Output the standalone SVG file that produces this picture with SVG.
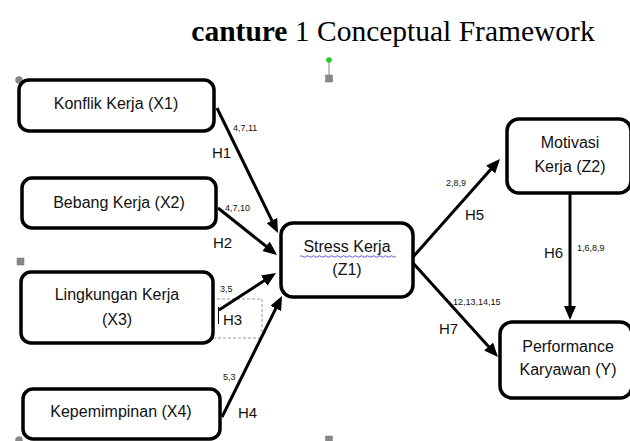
<svg xmlns="http://www.w3.org/2000/svg" width="630" height="441" viewBox="0 0 630 441">
<defs>
<style>
.box{fill:#fff;stroke:#000;stroke-width:3.5}
.lbl{font-family:"Liberation Sans",Arial,sans-serif;font-size:16px;fill:#111;text-anchor:middle}
.h{font-family:"Liberation Sans",Arial,sans-serif;font-size:15px;fill:#111}
.n{font-family:"Liberation Sans",Arial,sans-serif;font-size:9px;fill:#111}
.con{stroke:#000;stroke-width:3;fill:none}
.hdl{fill:#888;stroke:#777;stroke-width:0.5}
</style>
<marker id="ah" markerUnits="userSpaceOnUse" markerWidth="14" markerHeight="12" viewBox="0 0 14 12" refX="10" refY="6" orient="auto">
<path d="M0,0 L14,6 L0,12 z" fill="#000"/>
</marker>
</defs>
<rect width="630" height="441" fill="#fff"/>
<text x="393" y="41" font-family="Liberation Serif,Times New Roman,serif" font-size="29.5" text-anchor="middle" fill="#000"><tspan font-weight="bold">canture</tspan> 1 Conceptual Framework</text>

<g id="handles">
<line x1="329" y1="61" x2="329" y2="75" stroke="#888" stroke-width="1"/>
<circle cx="329" cy="60" r="2.8" fill="#2c2"/>
<rect class="hdl" x="325.5" y="75" width="7" height="7"/>
<circle class="hdl" cx="19" cy="80" r="3.5"/>
<rect class="hdl" x="17" y="258" width="7" height="7"/>
<circle class="hdl" cx="19" cy="440" r="3.5"/>
<rect class="hdl" x="325.5" y="436" width="7" height="7"/>
<rect x="207" y="299" width="55" height="39" fill="none" stroke="#999" stroke-width="1" stroke-dasharray="3,2"/>
</g>

<g id="connectors">
<line class="con" x1="217" y1="108" x2="276.2" y2="229.4" marker-end="url(#ah)"/>
<line class="con" x1="218" y1="208" x2="273.9" y2="252.5" marker-end="url(#ah)"/>
<line class="con" x1="219" y1="310" x2="272.6" y2="275.2" marker-end="url(#ah)"/>
<line class="con" x1="222" y1="417" x2="280.2" y2="299.6" marker-end="url(#ah)"/>
<line class="con" x1="413" y1="257" x2="497.3" y2="162" marker-end="url(#ah)"/>
<line class="con" x1="570" y1="193" x2="570" y2="316" marker-end="url(#ah)"/>
<line class="con" x1="413" y1="263" x2="495.3" y2="354" marker-end="url(#ah)"/>
<text class="n" x="233" y="131">4,7,11</text>
<text class="h" x="212" y="158">H1</text>
<text class="n" x="225" y="211">4,7,10</text>
<text class="h" x="213" y="248">H2</text>
<text class="n" x="220" y="292">3,5</text>
<text class="h" x="223" y="325">H3</text>
<line x1="218.5" y1="307" x2="218.5" y2="324" stroke="#000" stroke-width="1"/>
<text class="n" x="223" y="380">5,3</text>
<text class="h" x="238" y="418">H4</text>
<text class="n" x="446" y="186">2,8,9</text>
<text class="h" x="465" y="220">H5</text>
<text class="h" x="544" y="258">H6</text>
<text class="n" x="577" y="251">1,6,8,9</text>
<text class="n" x="453" y="305">12,13,14,15</text>
<text class="h" x="439" y="334">H7</text>
</g>

<g id="X1">
<rect class="box" x="19" y="80" width="195" height="51" rx="10"/>
<text class="lbl" x="116" y="109">Konflik Kerja (X1)</text>
</g>
<g id="X2">
<rect class="box" x="22" y="178" width="194" height="50" rx="10"/>
<text class="lbl" x="119" y="208">Bebang Kerja (X2)</text>
</g>
<g id="X3">
<rect class="box" x="21" y="272" width="192" height="71" rx="10"/>
<text class="lbl" x="117" y="300">Lingkungan Kerja</text>
<text class="lbl" x="117" y="325">(X3)</text>
</g>
<g id="X4">
<rect class="box" x="23" y="389" width="197" height="50" rx="10"/>
<text class="lbl" x="121" y="417">Kepemimpinan (X4)</text>
</g>
<g id="Z1">
<rect class="box" x="281" y="223" width="132" height="74" rx="12"/>
<text class="lbl" x="347" y="252">Stress Kerja</text>
<path d="M300,256.5 q1.5,-1.5 3,0 t3,0 t3,0 t3,0 t3,0 t3,0 t3,0 t3,0 t3,0 t3,0 t3,0 t3,0 t3,0 t3,0 t3,0 t3,0 t3,0 t3,0 t3,0 t3,0 t3,0 t3,0 t3,0 t3,0 t3,0 t3,0 t3,0 t3,0 t3,0 t3,0 t3,0 t3,0" fill="none" stroke="#33c" stroke-width="0.8"/>
<text class="lbl" x="347" y="275">(Z1)</text>
</g>
<g id="Z2">
<rect class="box" x="507" y="119" width="124" height="74" rx="12"/>
<text class="lbl" x="570" y="148">Motivasi</text>
<text class="lbl" x="570" y="172">Kerja (Z2)</text>
</g>
<g id="Y">
<rect class="box" x="500" y="322" width="132" height="76" rx="12"/>
<text class="lbl" x="568" y="352">Performance</text>
<text class="lbl" x="568" y="375">Karyawan (Y)</text>
</g>
</svg>
